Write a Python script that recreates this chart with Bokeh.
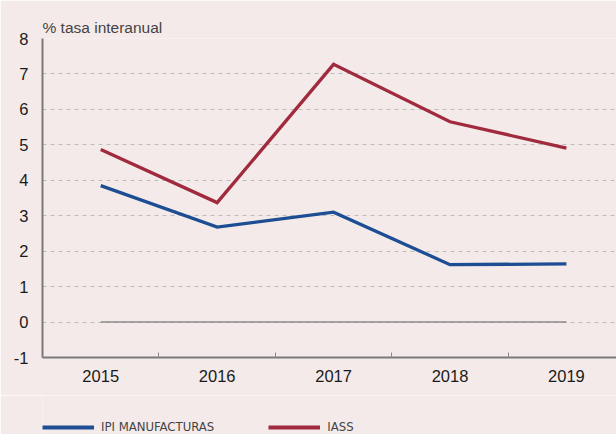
from bokeh.plotting import figure
from bokeh.layouts import column
from bokeh.models import FixedTicker, Legend, LegendItem, Range1d
from bokeh.embed import file_html
from bokeh.resources import INLINE

years = [2015, 2016, 2017, 2018, 2019]
ipi_manufacturas = [3.85, 2.68, 3.10, 1.62, 1.64]
iass = [4.87, 3.37, 7.27, 5.65, 4.91]
y_ticks = [-1, 0, 1, 2, 3, 4, 5, 6, 7, 8]
series_names = ["IPI MANUFACTURAS", "IASS"]

BG = "#F5EAEA"
BLUE = "#1D4E93"
RED = "#A02A3E"

p = figure(width=616, height=395, output_backend="svg", toolbar_location=None,
           x_range=Range1d(2014.5, 2019.43), y_range=Range1d(-1, 8),
           min_border_left=42, min_border_right=0, min_border_top=38, min_border_bottom=38)
p.background_fill_color = BG
p.border_fill_color = BG
p.outline_line_color = None

p.title.text = "% tasa interanual"
p.title.text_font = "Liberation Sans"
p.title.text_font_size = "15.5px"
p.title.text_font_style = "normal"
p.title.text_color = "#444444"
p.title.align = "left"
p.title.offset = 0
p.title.standoff = 6

# axes
p.yaxis.ticker = FixedTicker(ticks=y_ticks)
p.yaxis.major_label_overrides = {t: str(t) for t in y_ticks}
p.yaxis.major_tick_in = 0
p.yaxis.major_tick_out = 0
p.yaxis.minor_tick_line_color = None
p.yaxis.axis_line_color = "#7A7A7A"
p.yaxis.axis_line_width = 2
p.yaxis.major_label_text_font = "Liberation Sans"
p.yaxis.major_label_text_font_size = "16.5px"
p.yaxis.major_label_text_color = "#1A1A1A"
p.yaxis.major_label_standoff = 14

p.xaxis.ticker = FixedTicker(ticks=years, minor_ticks=[y + 0.5 for y in years[:-1]])
p.xaxis.major_tick_in = 0
p.xaxis.major_tick_out = 0
p.xaxis.minor_tick_in = 5
p.xaxis.minor_tick_out = 0
p.xaxis.minor_tick_line_color = "#8A8A8A"
p.xaxis.minor_tick_line_width = 1
p.xaxis.axis_line_color = "#7A7A7A"
p.xaxis.axis_line_width = 2
p.xaxis.major_label_text_font = "Liberation Sans"
p.xaxis.major_label_text_font_size = "16.5px"
p.xaxis.major_label_text_color = "#1A1A1A"
p.xaxis.major_label_standoff = 12

p.xgrid.grid_line_color = None
p.ygrid.ticker = FixedTicker(ticks=y_ticks[1:])
p.ygrid.grid_line_color = "#BDBDBD"
p.ygrid.grid_line_dash = "4 4"
p.ygrid.grid_line_width = 1

# zero line
p.line(x=[years[0], years[-1]], y=[0, 0], line_color="#8A8A8A", line_width=1.5)

p.line(x=years, y=ipi_manufacturas, line_color=BLUE, line_width=3.3, line_join="miter")
p.line(x=years, y=iass, line_color=RED, line_width=3.3, line_join="miter")

# legend strip (separate figure below the chart; its dummy lines lie outside its range)
q = figure(width=616, height=39, output_backend="svg", toolbar_location=None,
           x_range=Range1d(0, 1), y_range=Range1d(0, 1),
           x_axis_location=None, y_axis_location=None,
           min_border_left=0, min_border_right=0, min_border_top=0, min_border_bottom=0)
q.background_fill_color = BG
q.border_fill_color = BG
q.outline_line_color = None
q.grid.visible = False
l1 = q.line(x=[-5, -4], y=[-5, -4], line_color=BLUE, line_width=4)
l2 = q.line(x=[-5, -4], y=[-5, -4], line_color=RED, line_width=4)

legend = Legend(items=[LegendItem(label=series_names[0], renderers=[l1]),
                       LegendItem(label=series_names[1], renderers=[l2])],
                orientation="horizontal", location=(0, 0),
                background_fill_alpha=0, border_line_color=None,
                glyph_width=52, glyph_height=10, label_standoff=7, spacing=54,
                label_text_font="DejaVu Sans Condensed", label_text_font_size="13px",
                label_text_color="#444444", padding=0, margin=0)
q.add_layout(legend, "center")

open("out.html", "w").write(file_html(column(p, q, spacing=0), INLINE))
